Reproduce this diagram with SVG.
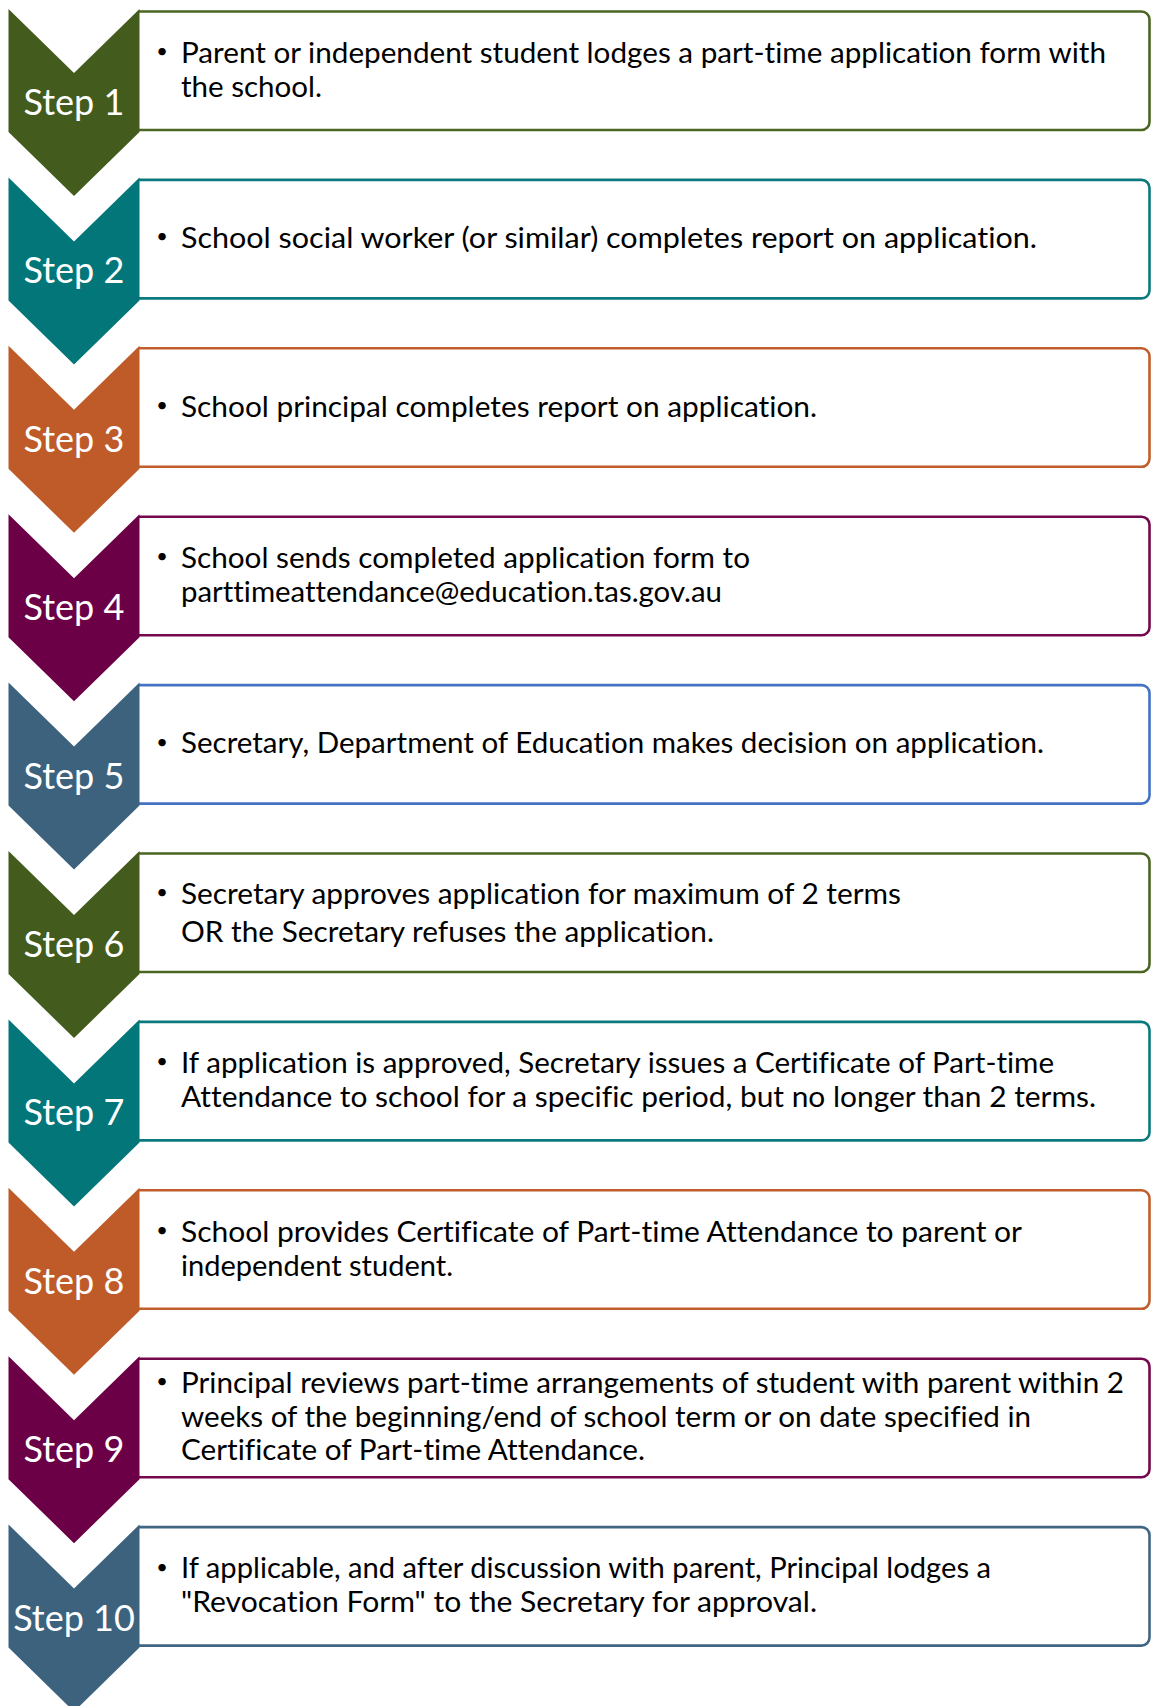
<svg xmlns="http://www.w3.org/2000/svg" width="1151" height="1706" viewBox="0 0 1151 1706">
<style>
.bg{fill:#ffffff}
.box{fill:#ffffff;stroke-width:2.6}
.chev{stroke:none}
.lbl{font-family:Lato,"Liberation Sans",sans-serif;font-size:36px;fill:#ffffff;text-anchor:middle}
.txt{font-family:Lato,"Liberation Sans",sans-serif;font-size:28px;fill:#000000;font-variant-ligatures:none}
.bul{font-family:Lato,"Liberation Sans",sans-serif;font-size:20px;fill:#000000;text-anchor:middle}
.g .chev{fill:#435C1D}.g .box{stroke:#4B6522}
.t .chev{fill:#03767A}.t .box{stroke:#0B7A7E}
.o .chev{fill:#BE5B28}.o .box{stroke:#C15F2C}
.p .chev{fill:#6C0047}.p .box{stroke:#74084E}
.s .chev{fill:#3C627E}.s .box{stroke:#406683}
.s5 .box{stroke:#4472C4}
</style>
<defs>
<path id="boxshape" d="M139,2.5 H1141.5 A8,8 0 0 1 1149.5,10.5 V113 A8,8 0 0 1 1141.5,121 H139"/>
<path id="chevshape" d="M8.5,0 L74,64 L139.5,0 V123 L74,187 L8.5,123 Z"/>
</defs>
<rect class="bg" x="0" y="0" width="1151" height="1706"/>

<g id="step1" class="g" transform="translate(0,9)">
<use href="#boxshape" class="box"/>
<use href="#chevshape" class="chev"/>
<text class="lbl" x="74" y="106">Step 1</text>
<text class="bul" x="162" y="49">•</text>
<text class="txt" x="181" y="53.75" textLength="925" lengthAdjust="spacingAndGlyphs">Parent or independent student lodges a part-time application form with</text>
<text class="txt" x="181" y="87.75" textLength="141" lengthAdjust="spacingAndGlyphs">the school.</text>
</g>

<g id="step2" class="t" transform="translate(0,177.4)">
<use href="#boxshape" class="box"/>
<use href="#chevshape" class="chev"/>
<text class="lbl" x="74" y="106">Step 2</text>
<text class="bul" x="162" y="66">•</text>
<text class="txt" x="181" y="70.75" textLength="856" lengthAdjust="spacingAndGlyphs">School social worker (or similar) completes report on application.</text>
</g>

<g id="step3" class="o" transform="translate(0,345.8)">
<use href="#boxshape" class="box"/>
<use href="#chevshape" class="chev"/>
<text class="lbl" x="74" y="106">Step 3</text>
<text class="bul" x="162" y="66">•</text>
<text class="txt" x="181" y="70.75" textLength="636" lengthAdjust="spacingAndGlyphs">School principal completes report on application.</text>
</g>

<g id="step4" class="p" transform="translate(0,514.2)">
<use href="#boxshape" class="box"/>
<use href="#chevshape" class="chev"/>
<text class="lbl" x="74" y="106">Step 4</text>
<text class="bul" x="162" y="49">•</text>
<text class="txt" x="181" y="53.75" textLength="569" lengthAdjust="spacingAndGlyphs">School sends completed application form to</text>
<text class="txt" x="181" y="87.75" textLength="541" lengthAdjust="spacingAndGlyphs">parttimeattendance@education.tas.gov.au</text>
</g>

<g id="step5" class="s s5" transform="translate(0,682.6)">
<use href="#boxshape" class="box"/>
<use href="#chevshape" class="chev"/>
<text class="lbl" x="74" y="106">Step 5</text>
<text class="bul" x="162" y="66">•</text>
<text class="txt" x="181" y="70.75" textLength="863" lengthAdjust="spacingAndGlyphs">Secretary, Department of Education makes decision on application.</text>
</g>

<g id="step6" class="g" transform="translate(0,851)">
<use href="#boxshape" class="box"/>
<use href="#chevshape" class="chev"/>
<text class="lbl" x="74" y="106">Step 6</text>
<text class="bul" x="162" y="47.75">•</text>
<text class="txt" x="181" y="52.5" textLength="720" lengthAdjust="spacingAndGlyphs">Secretary approves application for maximum of 2 terms</text>
<text class="txt" x="181" y="90.5" textLength="533" lengthAdjust="spacingAndGlyphs">OR the Secretary refuses the application.</text>
</g>

<g id="step7" class="t" transform="translate(0,1019.4)">
<use href="#boxshape" class="box"/>
<use href="#chevshape" class="chev"/>
<text class="lbl" x="74" y="106">Step 7</text>
<text class="bul" x="162" y="49">•</text>
<text class="txt" x="181" y="53.75" textLength="873" lengthAdjust="spacingAndGlyphs">If application is approved, Secretary issues a Certificate of Part-time</text>
<text class="txt" x="181" y="87.75" textLength="915" lengthAdjust="spacingAndGlyphs">Attendance to school for a specific period, but no longer than 2 terms.</text>
</g>

<g id="step8" class="o" transform="translate(0,1187.8)">
<use href="#boxshape" class="box"/>
<use href="#chevshape" class="chev"/>
<text class="lbl" x="74" y="106">Step 8</text>
<text class="bul" x="162" y="49">•</text>
<text class="txt" x="181" y="53.75" textLength="841" lengthAdjust="spacingAndGlyphs">School provides Certificate of Part-time Attendance to parent or</text>
<text class="txt" x="181" y="87.75" textLength="272" lengthAdjust="spacingAndGlyphs">independent student.</text>
</g>

<g id="step9" class="p" transform="translate(0,1356.2)">
<use href="#boxshape" class="box"/>
<use href="#chevshape" class="chev"/>
<text class="lbl" x="74" y="106">Step 9</text>
<text class="bul" x="162" y="32.25">•</text>
<text class="txt" x="181" y="37" textLength="943" lengthAdjust="spacingAndGlyphs">Principal reviews part-time arrangements of student with parent within 2</text>
<text class="txt" x="181" y="70.5" textLength="850" lengthAdjust="spacingAndGlyphs">weeks of the beginning/end of school term or on date specified in</text>
<text class="txt" x="181" y="104" textLength="464" lengthAdjust="spacingAndGlyphs">Certificate of Part-time Attendance.</text>
</g>

<g id="step10" class="s" transform="translate(0,1524.6)">
<use href="#boxshape" class="box"/>
<use href="#chevshape" class="chev"/>
<text class="lbl" x="74" y="106">Step 10</text>
<text class="bul" x="162" y="49">•</text>
<text class="txt" x="181" y="53.75" textLength="810" lengthAdjust="spacingAndGlyphs">If applicable, and after discussion with parent, Principal lodges a</text>
<text class="txt" x="181" y="87.75" textLength="636" lengthAdjust="spacingAndGlyphs">"Revocation Form" to the Secretary for approval.</text>
</g>

<g id="connectors"></g>
</svg>
